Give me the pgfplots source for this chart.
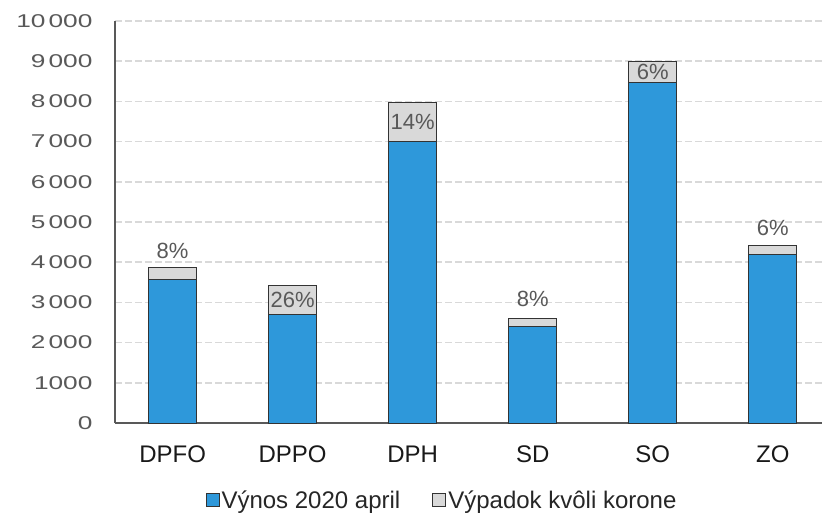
\documentclass[border=0pt]{standalone}
\usepackage{pgfplots}
\pgfplotsset{compat=1.18}
\usepackage{pgfplotstable}
\usepackage{fontspec}
\setmainfont{Liberation Sans}
\newfontfamily\tickfont{Liberation Sans}[FakeStretch=1.42]
\definecolor{barblue}{HTML}{2E98DA}
\definecolor{bargray}{HTML}{D9D9D9}
\definecolor{gridgray}{HTML}{D9D9D9}
\definecolor{txtgray}{HTML}{595959}
\definecolor{edge}{HTML}{333333}

\pgfplotstableread{
x blue loss
0 3570 300
1 2700 710
2 7000 980
3 2400 190
4 8480 520
5 4180 240
}\datatable

\pgfplotstableread{
x labely pct
0 4280 8
1 3055 26
2 7490 14
3 3085 8
4 8740 6
5 4850 6
}\labeltable

\pgfplotsset{common/.style={
  scale only axis,
  width=707pt, height=402pt,
  xmin=-0.48, xmax=5.41,
  ymin=0, ymax=10000,
}}

\begin{document}
\begin{tikzpicture}
\begin{axis}[
  common,
  ybar stacked,
  bar width=48pt,
  xtick={0,1,2,3,4,5},
  xticklabels={DPFO,DPPO,DPH,SD,SO,ZO},
  ytick={0,1000,...,10000},
  scaled y ticks=false,
  yticklabels={0,1000,2\,000,3\,000,4\,000,5\,000,6\,000,7\,000,8\,000,9\,000,10\,000},
  axis x line*=bottom,
  axis y line*=left,
  axis line style={draw=txtgray, line width=1.3pt, -},
  major tick length=0pt,
  ymajorgrids,
  major grid style={draw=gridgray, line width=1.6pt, dash pattern=on 7pt off 3pt},
  yticklabel style={font=\tickfont\fontsize{18.5}{18.5}\selectfont, text=txtgray, anchor=east, xshift=-19pt},
  xticklabel style={font=\fontsize{24}{24}\selectfont, text=black!90, yshift=-19pt},
  legend columns=2,
  legend style={draw=none, fill=none, at={(0.4625,-0.1915)}, anchor=center,
    font=\fontsize{24}{24}\selectfont, text=black!85,
    /tikz/every even column/.append style={column sep=30pt}},
  legend image code/.code={\draw[#1, line width=1pt] (0pt,-6.5pt) rectangle (13pt,6.5pt);},
]
\addplot[fill=barblue, draw=edge, line width=1pt] table[x=x, y=blue] {\datatable};
\addlegendentry{Výnos 2020 april}
\addplot[fill=bargray, draw=edge, line width=1pt] table[x=x, y=loss] {\datatable};
\addlegendentry{Výpadok kvôli korone}
\coordinate (sw) at (rel axis cs:0,0);
\coordinate (ne) at (rel axis cs:1,1);
\end{axis}
\begin{axis}[common, hide axis]
\addplot[draw=none, mark=none,
  nodes near coords={\pgfplotspointmeta\%},
  point meta=explicit symbolic,
  every node near coord/.append style={anchor=center,
    font=\fontsize{22}{22}\selectfont, text=txtgray, inner sep=0pt},
] table[x=x, y=labely, meta=pct] {\labeltable};
\end{axis}
\pgfresetboundingbox
\path[use as bounding box] ([shift={(-115pt,-93pt)}]sw) rectangle ([shift={(1pt,21pt)}]ne);
\end{tikzpicture}
\end{document}
